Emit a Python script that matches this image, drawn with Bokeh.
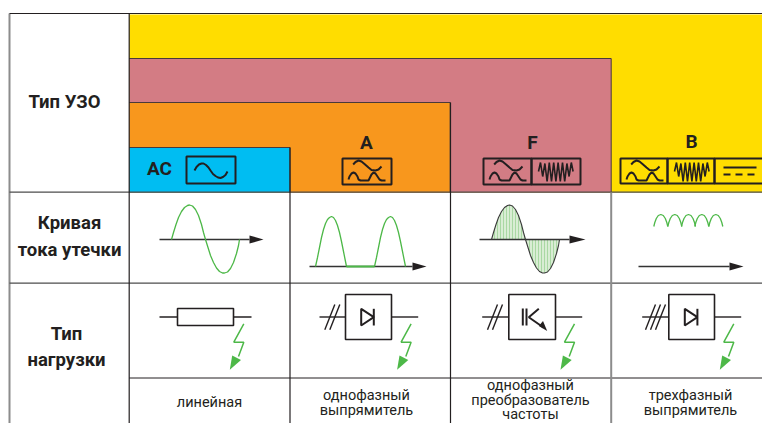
from bokeh.plotting import figure
from bokeh.embed import file_html
from bokeh.resources import INLINE
from bokeh.core.properties import value
import numpy as np

INK = "#231F20"; GREEN = "#4DB848"; GRAY = "#8C8C8C"
YELLOW = "#FFDD00"; PINK = "#D37C84"; ORANGE = "#F8971D"; BLUE = "#00BDF2"

# Category panels: colour, left, right, top
PANEL_COLORS = [YELLOW, PINK, ORANGE, BLUE]
PANEL_RIGHT = [762, 610.7, 449.7, 289.5]
PANEL_TOP = [14, 58, 102, 147]
PANEL_LEFT = 128.7
HEADER_BOTTOM = 192

# Table rules
ROW_Y = [191.7, 282.7]
SUBROW_Y = 377.5
COL_X = [128.7, 289.5, 450]
COL_TOP = [13, 147, 102]

# Row titles
TITLE_TEXT = ["Тип УЗО", "Кривая", "тока утечки", "Тип", "нагрузки"]
TITLE_X = [64, 69, 69, 66, 66]
TITLE_Y = [101, 222, 249, 333, 359]

# Type letters
TYPE_TEXT = ["AC", "A", "F", "B"]
TYPE_X = [159, 366, 532, 691]
TYPE_Y = [168, 142, 142, 141]

# Bottom labels
LABEL_TEXT = ["линейная", "однофазный", "выпрямитель", "однофазный", "преобразователь",
              "частоты", "трехфазный", "выпрямитель"]
LABEL_X = [209, 366, 366, 530, 530, 530, 690, 690]
LABEL_Y = [402, 395, 410, 385, 400, 414, 395, 410]

# Icon boxes: left, right, top, bottom
BOX_L = [186, 342, 483, 531, 620, 667, 714]
BOX_R = [235, 391, 531, 580, 667, 714, 766]
BOX_T = [156, 158, 158, 158, 158, 158, 158]
BOX_B = [183, 184, 184, 184, 183, 183, 183]

AC_WAVE_X = [194, 196, 198.5, 201, 203, 205.5, 208, 210, 212.5, 215, 217.5, 220, 222.5, 225, 227]
AC_WAVE_Y = [170, 166.5, 164, 163, 163, 164.5, 167, 170, 173.5, 175.5, 177, 177.5, 176.5, 174.5, 171]

# Filter icon, relative to its box
FILTER_TOP_DX = [10.7, 13, 16, 19, 22, 26, 29, 33, 36, 39]
FILTER_TOP_DY = [6, 3.5, 2, 3, 5.5, 9, 11.5, 12, 11, 8]
FILTER_LOW_DX = [6, 7, 9, 11, 13, 15, 16, 18, 26, 27, 29, 31, 33, 35, 37, 39, 43]
FILTER_LOW_DY = [21, 18, 15, 14, 15, 18, 21, 22, 22, 20, 16, 14, 15, 18, 21, 22, 22]
FILTER_BOX_L = [342, 483, 620]

# Noise icon
NOISE_X = [538, 540, 542.2, 544.4, 546.6, 548.8, 551, 553.2, 555.4, 557.6, 559.8, 562, 564.2, 566.4, 568.6, 570.8, 572.6]
NOISE_Y = [171, 162, 176, 163, 181, 162, 181, 162, 181, 162, 181, 162, 181, 163, 176, 162, 171]
NOISE_SHIFT = [0, 136]

# DC icon
DC_X = [723, 756]
DC_SOLID_Y = 167
DC_DASH_Y = 174

# Leakage current curves
SINE_X = [171, 173, 175.5, 178, 181, 184, 187, 189, 192, 195, 198, 201, 203, 205, 207.5, 210, 213, 216, 219, 222,
          224, 227, 230, 233, 236, 238, 239]
SINE_Y = [239, 232, 224, 217, 211, 207, 205, 204.5, 205.5, 209, 215, 224, 232, 239, 247, 255, 262, 267.5, 271,
          272.5, 272.5, 271.5, 268, 262, 253, 245, 239]
HUMP_X = [315, 317, 319, 321, 323, 325, 327, 329, 331, 333, 335, 337, 339, 341, 343, 345, 346]
HUMP_Y = [266, 257, 247, 237, 229, 223, 219, 217, 216, 217, 220, 225, 232, 241, 251, 261, 266]
HUMP_SHIFT = [0, 59]
SMALL_DX = [0, 1, 2.5, 4.5, 7, 9.5, 11.5, 13, 14]
SMALL_Y = [226, 222, 218, 215, 214, 215, 218, 222, 226]
SMALL_X0 = [653.3, 667.3, 681, 694.3, 708.3]
HATCH_X = [494, 497, 500, 503, 506, 509, 512, 515, 518, 521, 524, 529, 532, 535, 538, 541, 544, 547, 550, 553, 556]
SINE_F_SHIFT = 320

# Axes with arrows
AXIS_L = [159, 309, 479, 638]
AXIS_TIP = [263, 426, 585, 743]
AXIS_HEAD = [249, 412, 569, 729]
AXIS_Y = [239, 266, 239, 266]
FLAT_X = [346, 374]

# Load symbols
WIRE_Y = 316.5
RES_X = [177, 233]
RES_Y = [308, 325]
WIRE_L = [159, 319, 481.7, 641.7]
WIRE_BOX_L = [177, 345, 508.3, 668.3]
WIRE_BOX_R = [233, 391, 555, 714]
WIRE_R = [251, 417.7, 581.7, 740.7]
LOAD_BOX_T = 294
LOAD_BOX_B = 339
SLASH_X0 = [324.3, 329.3, 487, 492, 645, 650, 655]
DIODE_DX = [360.7, 684.3]

BOLT_X = [243.3, 233.3, 243.3, 238]
BOLT_Y = [323.3, 341.7, 341.7, 356]
BOLT_HEAD_X = [229.3, 231.7, 240.5]
BOLT_HEAD_Y = [369.3, 355, 359.5]
BOLT_SHIFT = [0, 167.3, 330.7, 490]

p = figure(width=762, height=423, x_range=(0, 762), y_range=(423, 0), toolbar_location=None,
           output_backend="svg", min_border=0, outline_line_color=None, background_fill_color="white",
           border_fill_color="white")
p.axis.visible = False
p.grid.visible = False

for c, r, t in zip(PANEL_COLORS, PANEL_RIGHT, PANEL_TOP):
    p.quad(left=PANEL_LEFT, right=r, top=t, bottom=HEADER_BOTTOM, fill_color=c, line_color=None)
    if c != YELLOW:
        p.line([PANEL_LEFT, r, r], [t, t, HEADER_BOTTOM], line_color="#4a3a3a", line_width=1)

# rules
p.line([9, 9], [13, 423], line_color=GRAY, line_width=2)
p.line([9, 762], [13, 13], line_color=INK, line_width=1.2)
for y in ROW_Y:
    p.line([9, 762], [y, y], line_color="#4d4d4d", line_width=1.3)
p.line([128.7, 762], [SUBROW_Y, SUBROW_Y], line_color=INK, line_width=1)
for x, t in zip(COL_X, COL_TOP):
    p.line([x, x], [t, 423], line_color=INK, line_width=1.2)
p.line([610.7, 610.7], [192, 423], line_color=GRAY, line_width=2)

# text
p.text(TITLE_X, TITLE_Y, text=TITLE_TEXT, text_font=value("Roboto"), text_font_style="bold",
       text_font_size="18.5px", text_color=INK, text_align="center", text_baseline="middle")
p.text(TYPE_X, TYPE_Y, text=TYPE_TEXT, text_font=value("Roboto"), text_font_style="bold",
       text_font_size="19px", text_color=INK, text_align="center", text_baseline="middle")
p.text(LABEL_X, LABEL_Y, text=LABEL_TEXT, text_font=value("Roboto"),
       text_font_size="14.5px", text_color=INK, text_align="center", text_baseline="middle")

# icon boxes
p.quad(left=BOX_L, right=BOX_R, top=BOX_T, bottom=BOX_B, fill_color=None, line_color=INK, line_width=2)
p.line(AC_WAVE_X, AC_WAVE_Y, line_color=INK, line_width=2)
for x0 in FILTER_BOX_L:
    p.line(np.array(FILTER_TOP_DX) + x0, np.array(FILTER_TOP_DY) + 158, line_color=INK, line_width=2)
    p.line(np.array(FILTER_LOW_DX) + x0, np.array(FILTER_LOW_DY) + 158, line_color=INK, line_width=2)
for s in NOISE_SHIFT:
    p.line(np.array(NOISE_X) + s, NOISE_Y, line_color=INK, line_width=1.6)
p.line(DC_X, [DC_SOLID_Y] * 2, line_color=INK, line_width=2)
p.line(DC_X, [DC_DASH_Y] * 2, line_color=INK, line_width=2, line_dash="7 5")

# curves
sx = np.array(SINE_X, float); sy = np.array(SINE_Y, float)
fx = sx + SINE_F_SHIFT
p.patch(fx, sy, fill_color="#D9EDD4", line_color=None)
hy = np.interp(HATCH_X, fx, sy)
p.segment(HATCH_X, hy, HATCH_X, [239] * len(HATCH_X), line_color="#A9D8A3", line_width=1)
for l, t, h, y in zip(AXIS_L, AXIS_TIP, AXIS_HEAD, AXIS_Y):
    p.line([l, h], [y, y], line_color="#333333", line_width=1.5)
    p.patch([h, t, h], [y - 4, y, y + 4], fill_color=INK, line_color=None)
p.line(sx, sy, line_color=GREEN, line_width=1.3)
p.line(fx, sy, line_color="#3a3a3a", line_width=1.1)
for s in HUMP_SHIFT:
    p.line(np.array(HUMP_X) + s, HUMP_Y, line_color=GREEN, line_width=1.3)
p.line(FLAT_X, [266, 266], line_color=GREEN, line_width=2)
for x0 in SMALL_X0:
    p.line(np.array(SMALL_DX) + x0, SMALL_Y, line_color=GREEN, line_width=1.3)

# load symbols
for l, a, b, r in zip(WIRE_L, WIRE_BOX_L, WIRE_BOX_R, WIRE_R):
    p.line([l, a], [WIRE_Y] * 2, line_color=INK, line_width=1.4)
    p.line([b, r], [WIRE_Y] * 2, line_color=INK, line_width=1.4)
p.quad(left=RES_X[0], right=RES_X[1], top=RES_Y[0], bottom=RES_Y[1], fill_color=None, line_color=INK, line_width=1.6)
p.quad(left=WIRE_BOX_L[1:], right=WIRE_BOX_R[1:], top=LOAD_BOX_T, bottom=LOAD_BOX_B, fill_color=None,
       line_color=INK, line_width=1.6)
for x0 in SLASH_X0:
    p.line([x0, x0 + 10], [329.3, 304], line_color=INK, line_width=1.4)
for x0 in DIODE_DX:
    p.patch([x0, x0 + 12.6, x0], [308.3, 316.7, 325], fill_color=None, line_color=INK, line_width=2)
    p.line([x0 + 12.6, x0 + 12.6], [308.3, 325], line_color=INK, line_width=2)
p.line([522.3, 522.3], [308, 325], line_color=INK, line_width=2)
p.line([526, 526], [308, 325], line_color=INK, line_width=2)
p.line([538.3, 528.3, 543], [308.3, 316.7, 327], line_color=INK, line_width=2)
p.patch([546.7, 538.3, 542.5], [330.5, 325.5, 320.5], fill_color=INK, line_color=None)

for s in BOLT_SHIFT:
    p.line(np.array(BOLT_X) + s, BOLT_Y, line_color=GREEN, line_width=1.5)
    p.patch(np.array(BOLT_HEAD_X) + s, BOLT_HEAD_Y, fill_color=GREEN, line_color=None)

open("out.html", "w").write(file_html(p, INLINE))
